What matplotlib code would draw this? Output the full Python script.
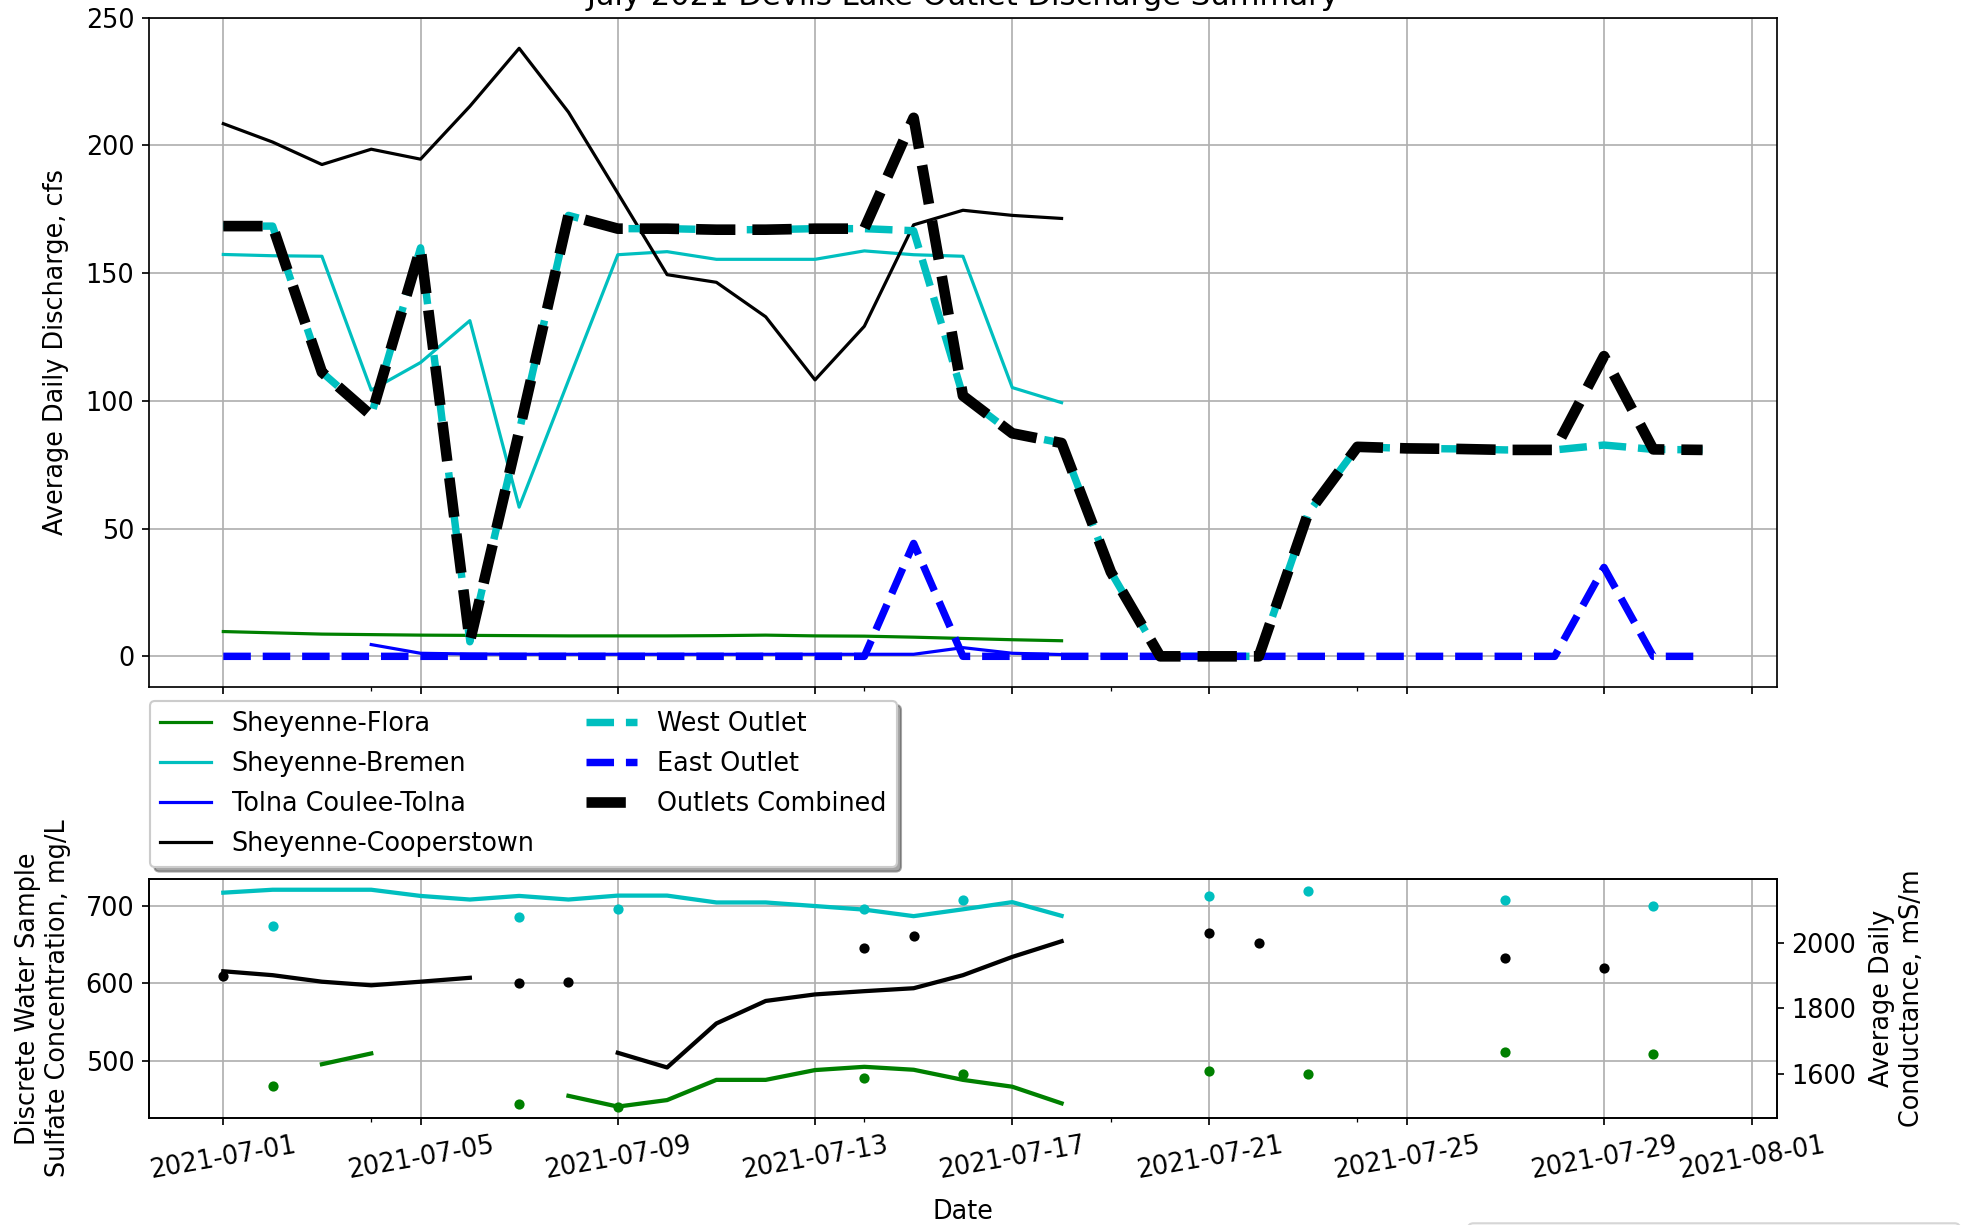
import numpy as np
import pandas as pd
import matplotlib
matplotlib.use("Agg")
import matplotlib.pyplot as plt
import matplotlib.dates as mdates
from matplotlib.ticker import FixedLocator
from matplotlib.patches import FancyBboxPatch

plt.rcParams['font.size'] = 12

nan = np.nan
dates = pd.date_range("2021-07-01", "2021-07-31", freq="D")

# average daily discharge, cfs (July 1 - 31)
flora_q = [9.7, 9.2, 8.7, 8.5, 8.3, 8.2, 8.1, 8.0, 8.0, 8.0, 8.1, 8.3, 8.0, 7.9,
           7.5, 7.0, 6.5, 6.1] + [nan] * 13
bremen_q = [157.3, 156.8, 156.6, 104.2, 115.0, 131.4, 58.4, 108.0, 157.2, 158.4,
            155.4, 155.4, 155.4, 158.7, 157.2, 156.6, 105.2, 99.3] + [nan] * 13
tolna_q = [nan, nan, nan, 4.6, 1.2, 0.9, 0.8, 0.8, 0.8, 0.8, 0.8, 0.8, 0.8, 0.8,
           0.8, 3.4, 1.2, 0.7] + [nan] * 13
coop_q = [208.5, 201.3, 192.5, 198.5, 194.6, 215.3, 238.0, 213.0, 181.3, 149.4,
          146.4, 132.9, 108.2, 129.2, 168.9, 174.6, 172.6, 171.4] + [nan] * 13
west_q = [168.4, 168.4, 111.2, 94.3, 159.9, 5.7, 88.0, 172.6, 167.4, 167.4,
          167.0, 167.0, 167.4, 167.4, 166.6, 102.0, 87.3, 83.5, 33.0, 0.0,
          0.0, 0.0, 56.0, 82.0, 81.4, 81.2, 80.8, 80.8, 82.7, 81.0, 80.8]
east_q = [0.0] * 14 + [44.2, 0.0] + [0.0] * 12 + [34.8, 0.0, 0.0]
comb_q = [168.4, 168.4, 111.2, 94.3, 159.9, 5.7, 88.0, 172.6, 167.4, 167.4,
          167.0, 167.0, 167.4, 167.4, 210.8, 102.0, 87.3, 83.5, 33.0, 0.0,
          0.0, 0.0, 56.0, 82.0, 81.4, 81.2, 80.8, 80.8, 117.5, 81.0, 80.8]

# average daily conductance, mS/m
flora_c = [nan, nan, 1629, 1662, nan, nan, nan, 1532, 1499, 1519, 1581, 1581,
           1611, 1621, 1612, 1581, 1560, 1509] + [nan] * 13
bremen_c = [2155, 2164, 2164, 2164, 2145, 2134, 2145, 2134, 2146, 2146, 2125,
            2125, 2114, 2103, 2083, 2104, 2126, 2084] + [nan] * 13
coop_c = [1914, 1902, 1882, 1871, 1882, 1894, nan, nan, 1664, 1619, 1754, 1823,
          1843, 1853, 1862, 1902, 1958, 2006] + [nan] * 13

# discrete sulfate samples, mg/L
bremen_s_dates = pd.to_datetime(["2021-07-02", "2021-07-07", "2021-07-09", "2021-07-14", "2021-07-16",
                                 "2021-07-21", "2021-07-23", "2021-07-27", "2021-07-30"])
bremen_s = [673.8, 685.8, 695.3, 695.3, 707.3, 712.4, 719.3, 707.3, 700.0]
coop_s_dates = pd.to_datetime(["2021-07-01", "2021-07-07", "2021-07-08", "2021-07-14", "2021-07-15",
                               "2021-07-21", "2021-07-22", "2021-07-27", "2021-07-29"])
coop_s = [609.4, 600.0, 602.1, 645.0, 661.4, 664.4, 652.4, 633.0, 619.3]
flora_s_dates = pd.to_datetime(["2021-07-02", "2021-07-07", "2021-07-09", "2021-07-14", "2021-07-16",
                                "2021-07-21", "2021-07-23", "2021-07-27", "2021-07-30"])
flora_s = [468.2, 444.6, 440.3, 478.5, 483.3, 487.6, 483.3, 511.2, 509.0]

major_days = [1, 5, 9, 13, 17, 21, 25, 29]
minor_ticks = pd.to_datetime(["2021-07-04", "2021-07-14", "2021-07-19", "2021-07-24"])

DPI = 153
fig = plt.figure(figsize=(1965 / DPI, 1225 / DPI), dpi=DPI)
ax1 = fig.add_axes([0.0760, 0.4394, 0.8281, 0.5462])
ax3 = fig.add_axes([0.0760, 0.0876, 0.8281, 0.1946])
ax4 = ax3.twinx()

ax1.plot(dates, flora_q, color='g', label='Sheyenne-Flora')
ax1.plot(dates, bremen_q, color='c', label='Sheyenne-Bremen')
ax1.plot(dates, tolna_q, color='b', label='Tolna Coulee-Tolna')
ax1.plot(dates, coop_q, color='k', label='Sheyenne-Cooperstown')
ax1.plot(dates, west_q, 'c--', lw=3.5, label='West Outlet')
ax1.plot(dates, east_q, 'b--', lw=3.5, label='East Outlet')
ax1.plot(dates, comb_q, 'k--', lw=5, label='Outlets Combined')
ax1.set_ylim(-11.9, 250)
ax1.set_ylabel('Average Daily Discharge, cfs', labelpad=8)
ax1.set_title('July 2021 Devils Lake Outlet Discharge Summary')
ax1.grid(True)
ax1.legend(loc='upper left', bbox_to_anchor=(0.0005, -0.021), borderaxespad=0,
           ncol=2, shadow=True, labelspacing=0.55)

ax3.plot(flora_s_dates, flora_s, 'o', color='g', ms=3.8)
ax3.plot(bremen_s_dates, bremen_s, 'o', color='c', ms=3.8)
ax3.plot(coop_s_dates, coop_s, 'o', color='k', ms=3.8)
ax4.plot(dates, flora_c, color='g', lw=2)
ax4.plot(dates, bremen_c, color='c', lw=2)
ax4.plot(dates, coop_c, color='k', lw=2)
ax3.set_ylim(427, 734)
ax4.set_ylim(1465, 2196)
ax3.set_yticks([500, 600, 700])
ax4.set_yticks([1600, 1800, 2000])
ax3.set_ylabel('Discrete Water Sample\nSulfate Concentration, mg/L', labelpad=7)
ax4.set_ylabel('Average Daily\nConductance, mS/m', labelpad=6)
ax3.set_xlabel('Date', labelpad=7)
ax3.grid(True)

xmin = dates[0] - pd.Timedelta(days=1.5)
xmax = dates[-1] + pd.Timedelta(days=1.5)
for ax in (ax1, ax3):
    ax.set_xlim(xmin, xmax)
    ax.xaxis.set_major_locator(mdates.DayLocator(bymonthday=major_days))
    ax.xaxis.set_major_formatter(mdates.DateFormatter('%Y-%m-%d'))
    ax.xaxis.set_minor_locator(FixedLocator(mdates.date2num(minor_ticks)))
ax1.tick_params(axis='x', labelbottom=False)
plt.setp(ax3.get_xticklabels(), rotation=10, ha='center')

# top edge of a second legend frame that sits below the cropped bottom edge
frame = FancyBboxPatch((1468 / DPI, -1.0), 492 / DPI, 1.0 + 1.7 / DPI,
                       boxstyle='round,pad=0,rounding_size=0.035',
                       transform=fig.dpi_scale_trans, facecolor='white',
                       edgecolor='0.8', alpha=0.8, lw=1)
fig.add_artist(frame)

fig.savefig('out.png', dpi=DPI)
